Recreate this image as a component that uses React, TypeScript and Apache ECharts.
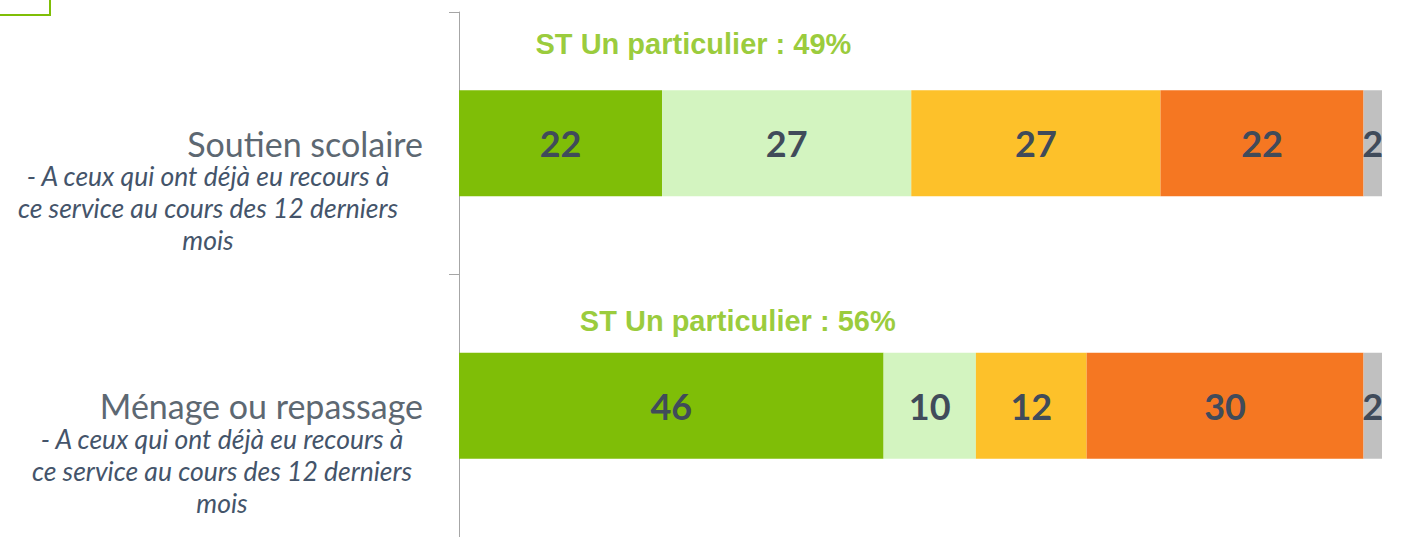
import React, { useEffect, useRef } from "react";
import * as echarts from "echarts";

const categories = ["Soutien scolaire", "Ménage ou repassage"];
const subtitleLines = [
  "- A ceux qui ont déjà eu recours à",
  "ce service au cours des 12 derniers",
  "mois",
];
const seriesNames = ["Réponse 1", "Réponse 2", "Réponse 3", "Réponse 4", "Réponse 5"];
const seg1 = [22, 46];
const seg2 = [27, 10];
const seg3 = [27, 12];
const seg4 = [22, 30];
const seg5 = [2, 2];
const stValues = [49, 56];

const colors = ["#7fbe07", "#d3f4c0", "#fdc12a", "#f57722", "#c0c0c0"];
// layout constants for the subtotal labels (x anchor in value units, y offset in px)
const stAnchorX = [25.4, 30.2];
const stOffsetY = [-99, -85];

export default function App() {
  const ref = useRef<HTMLDivElement>(null);
  useEffect(() => {
    if (!ref.current) return;
    const chart = echarts.init(ref.current, null, { renderer: "svg" });
    const segs = [seg1, seg2, seg3, seg4, seg5];
    const barSeries = segs.map((d, k) => ({
      name: seriesNames[k],
      type: "bar",
      stack: "total",
      barWidth: 106,
      data: d,
      itemStyle: { color: colors[k] },
      label: {
        show: true,
        position: "inside",
        color: "#404b5a",
        fontFamily: "Lato",
        fontWeight: "bold",
        fontSize: 36,
        formatter: (p: any) => String(p.value),
      },
    }));
    const subStyle = {
      fontFamily: "Lato",
      fontStyle: "italic",
      fontSize: 26.5,
      color: "#44546a",
      align: "center",
      lineHeight: 32,
    };
    const option: any = {
      animation: false,
      grid: { left: 459, right: 35, top: 12, bottom: -3, containLabel: false },
      xAxis: { type: "value", min: 0, max: 100, show: false },
      yAxis: {
        type: "category",
        data: categories,
        inverse: true,
        axisLine: { show: true, lineStyle: { color: "#a6a6a6", width: 1 } },
        axisTick: { show: true, length: 10, lineStyle: { color: "#a6a6a6" } },
        axisLabel: {
          margin: 36,
          width: 430,
          padding: [96, 0, 0, 0],
          formatter: (v: string, i: number) =>
            `{t|${v}}\n` + subtitleLines.map((l) => `{s${i}|${l}}`).join("\n"),
          rich: {
            t: {
              fontFamily: "Lato",
              fontSize: 34,
              color: "#5d6872",
              align: "right",
              lineHeight: 34,
            },
            s0: { ...subStyle },
            s1: { ...subStyle, padding: [0, 0, 0, 28] },
          },
        },
      },
      series: [
        ...barSeries,
        {
          type: "scatter",
          symbolSize: 1,
          itemStyle: { color: "transparent" },
          silent: true,
          data: stValues.map((v, i) => ({
            value: [stAnchorX[i], i],
            label: {
              show: true,
              position: "inside",
              offset: [0, stOffsetY[i]],
              formatter: `ST Un particulier : ${v}%`,
              color: "#7fbe07",
              fontFamily: "Liberation Sans",
              fontWeight: "bold",
              fontSize: 29,
            },
          })),
        },
      ],
      graphic: [
        {
          type: "rect",
          shape: { x: -10, y: -10, width: 60, height: 25 },
          style: { fill: "none", stroke: "#7fbe07", lineWidth: 2 },
        },
      ],
    };
    chart.setOption(option);
    return () => chart.dispose();
  }, []);
  return (
    <div
      ref={ref}
      style={{ position: "fixed", left: 0, top: 0, width: 1417, height: 537, background: "#fff" }}
    />
  );
}
